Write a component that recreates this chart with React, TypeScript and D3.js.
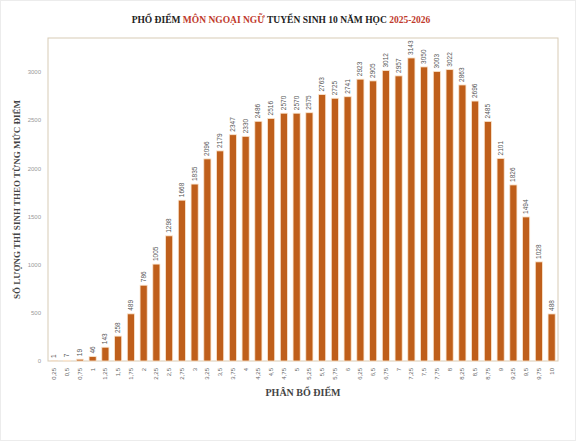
import { useEffect, useRef } from "react";
import { axisBottom, axisLeft, format, scaleBand, scaleLinear, select } from "d3";

// score levels 0.25 .. 10 and number of students at each level
const scores = [
  "0,25", "0,5", "0,75", "1", "1,25", "1,5", "1,75", "2", "2,25", "2,5",
  "2,75", "3", "3,25", "3,5", "3,75", "4", "4,25", "4,5", "4,75", "5",
  "5,25", "5,5", "5,75", "6", "6,25", "6,5", "6,75", "7", "7,25", "7,5",
  "7,75", "8", "8,25", "8,5", "8,75", "9", "9,25", "9,5", "9,75", "10",
];
const counts = [
  1, 7, 19, 46, 143, 258, 489, 786, 1005, 1298,
  1668, 1835, 2096, 2179, 2347, 2330, 2486, 2516, 2570, 2570,
  2575, 2763, 2725, 2741, 2923, 2905, 3012, 2957, 3143, 3050,
  3003, 3022, 2863, 2696, 2485, 2101, 1826, 1494, 1028, 488,
];
const yTicks = [0, 500, 1000, 1500, 2000, 2500, 3000];

const width = 576;
const height = 441;
const marginTop = 38;
const marginRight = 18;
const marginBottom = 80;
const marginLeft = 48;

const BAR = "#bf5f1b";
const SERIF = "'Liberation Serif', 'DejaVu Serif', serif";
const SANS = "'Liberation Sans', Arial, sans-serif";

export default function App() {
  const gx = useRef<SVGGElement>(null);
  const gy = useRef<SVGGElement>(null);

  const x = scaleBand(scores, [marginLeft, width - marginRight]).paddingInner(0.44).paddingOuter(0.22);
  const y = scaleLinear([0, 3350], [height - marginBottom, marginTop]);

  useEffect(() => {
    const g = select(gx.current!);
    g.call(axisBottom(x).tickSize(0).tickPadding(0) as any);
    g.select(".domain").remove();
    g.selectAll("text")
      .attr("transform", "rotate(-90)")
      .attr("text-anchor", "end")
      .attr("dy", "0.32em")
      .attr("x", -7)
      .attr("y", 0)
      .attr("fill", "#666")
      .style("font-family", SANS)
      .style("font-size", "6px");
  }, [x]);

  useEffect(() => {
    const g = select(gy.current!);
    g.call(axisLeft(y).tickValues(yTicks).tickFormat(format("d")).tickSize(0).tickPadding(7) as any);
    g.select(".domain").remove();
    g.selectAll("text")
      .attr("fill", "#999")
      .style("font-family", SANS)
      .style("font-size", "6px");
  }, [y]);

  const base = y(0);

  return (
    <div style={{ position: "fixed", left: 0, top: 0 }}>
      <svg width={width} height={height} style={{ display: "block", background: "#fff" }}>
        <rect x={0.5} y={0.5} width={width - 1} height={height - 1} fill="#fff" stroke="#ececec" />
        <text x={281} y={23} textAnchor="middle" fontFamily={SERIF} fontWeight="bold" fontSize={9.5} fill="#222">
          PHỔ ĐIỂM <tspan fill="#c0392b">MÔN NGOẠI NGỮ</tspan> TUYỂN SINH 10 NĂM HỌC{" "}
          <tspan fill="#c0392b">2025-2026</tspan>
        </text>
        <rect
          x={marginLeft}
          y={marginTop}
          width={width - marginLeft - marginRight}
          height={base - marginTop}
          fill="none"
          stroke="#d8cbb5"
        />
        {counts.map((c, i) => (
          <rect
            key={scores[i]}
            x={x(scores[i])!}
            y={y(c)}
            width={x.bandwidth()}
            height={base - y(c)}
            fill={BAR}
            stroke="#fbe6cf"
            strokeWidth={0.8}
          />
        ))}
        {counts.map((c, i) => {
          const cx = x(scores[i])! + x.bandwidth() / 2;
          const cy = y(c) - 3;
          return (
            <text
              key={"v" + scores[i]}
              transform={`translate(${cx},${cy}) rotate(-90)`}
              dy="0.32em"
              fontFamily={SANS}
              fontSize={6.5}
              fill="#555"
            >
              {c}
            </text>
          );
        })}
        <g ref={gx} transform={`translate(0,${base})`} />
        <g ref={gy} transform={`translate(${marginLeft},0)`} />
        <text
          transform={`translate(20,${(marginTop + base) / 2}) rotate(-90)`}
          textAnchor="middle"
          fontFamily={SERIF}
          fontWeight="bold"
          fontSize={9}
          fill="#444"
        >
          SỐ LƯỢNG THÍ SINH THEO TỪNG MỨC ĐIỂM
        </text>
        <text
          x={(marginLeft + width - marginRight) / 2}
          y={396}
          textAnchor="middle"
          fontFamily={SERIF}
          fontWeight="bold"
          fontSize={10}
          fill="#444"
        >
          PHÂN BỔ ĐIỂM
        </text>
      </svg>
    </div>
  );
}
